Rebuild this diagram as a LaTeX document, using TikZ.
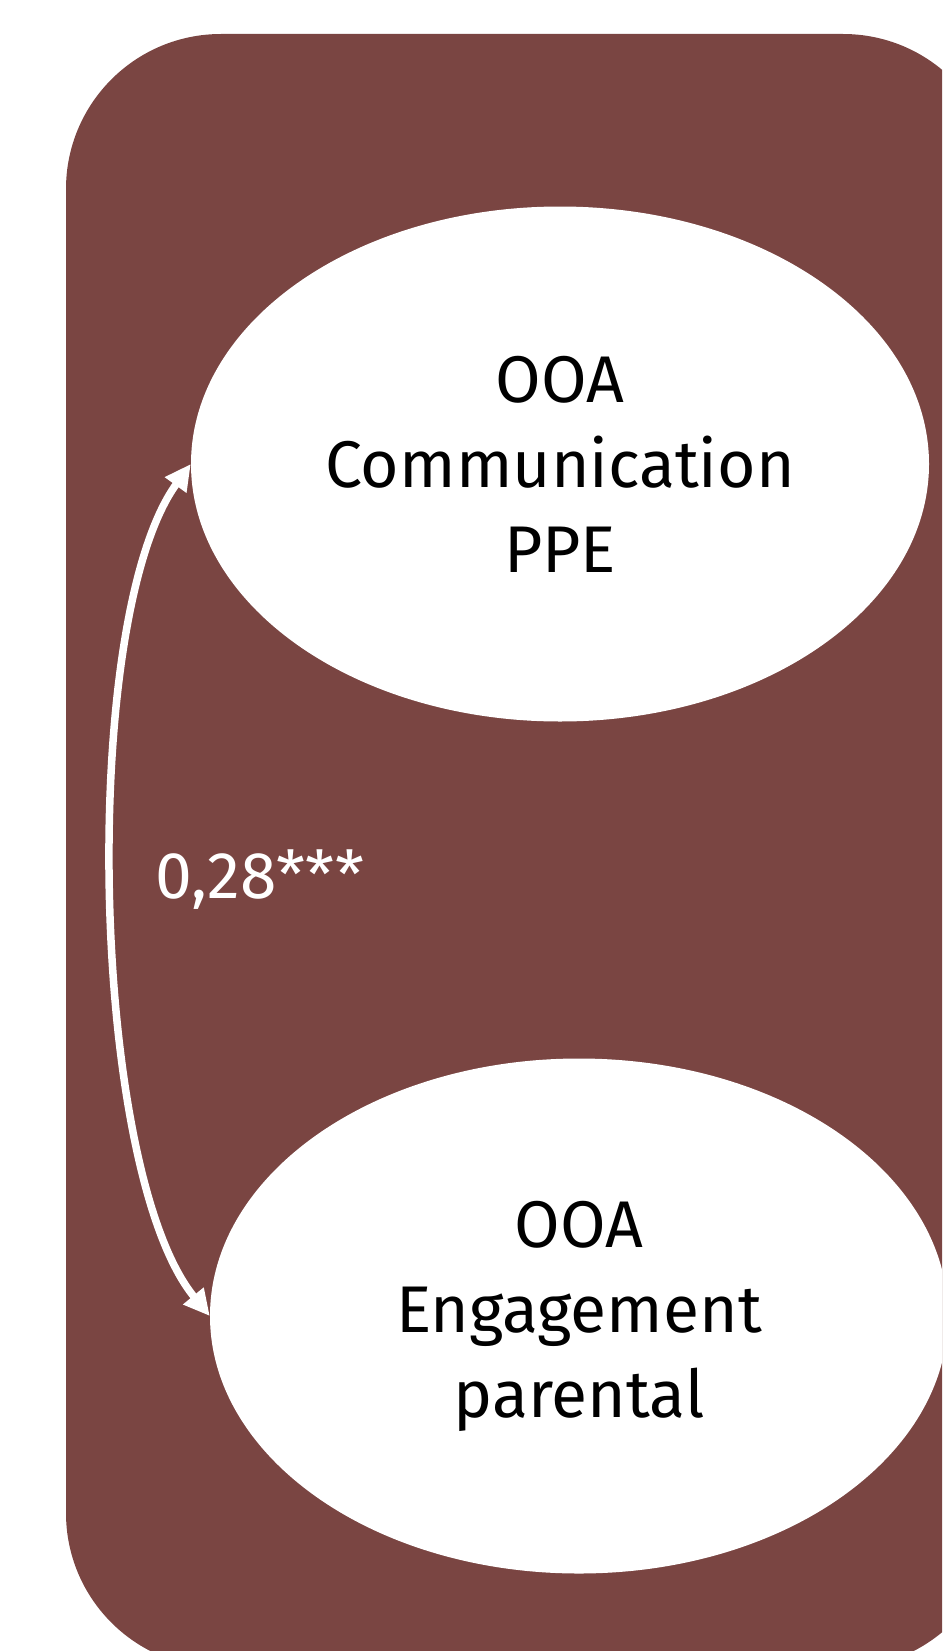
\documentclass[tikz,border=0pt]{standalone}
\usepackage{fontspec}
\setmainfont{Fira Sans}
\usetikzlibrary{shapes.geometric,arrows.meta}
\definecolor{panelbrown}{RGB}{122,69,66}
\tikzset{
  ell/.style={ellipse, fill=white, draw=none, inner sep=0pt,
    minimum width=738pt, minimum height=515pt, align=center,
    font=\fontsize{66}{85}\selectfont, text=black},
  corr/.style={white, line width=7.5pt, {Triangle[length=26pt,width=25pt]}-{Triangle[length=26pt,width=25pt]}},
  lbl/.style={text=white, font=\fontsize{66}{70}\selectfont, inner sep=0pt}
}
\begin{document}
\begin{tikzpicture}[x=1pt,y=-1pt]
\useasboundingbox (0,0) rectangle (942,1651);
\clip (0,0) rectangle (942,1651);
\fill[white] (0,0) rectangle (942,1651);
\fill[panelbrown, rounded corners=155pt] (66,34) rectangle (998,1668);
\node[ell] (e1) at (560,464) {OOA\\Communication\\PPE};
\node[ell] (e2) at (579,1316) {OOA\\Engagement\\parental};
\draw[corr] (e1.west) .. controls (78,620) and (90,1170) .. (e2.west);
\node[lbl] (r) at (260,880) {0,28***};
\end{tikzpicture}
\end{document}
